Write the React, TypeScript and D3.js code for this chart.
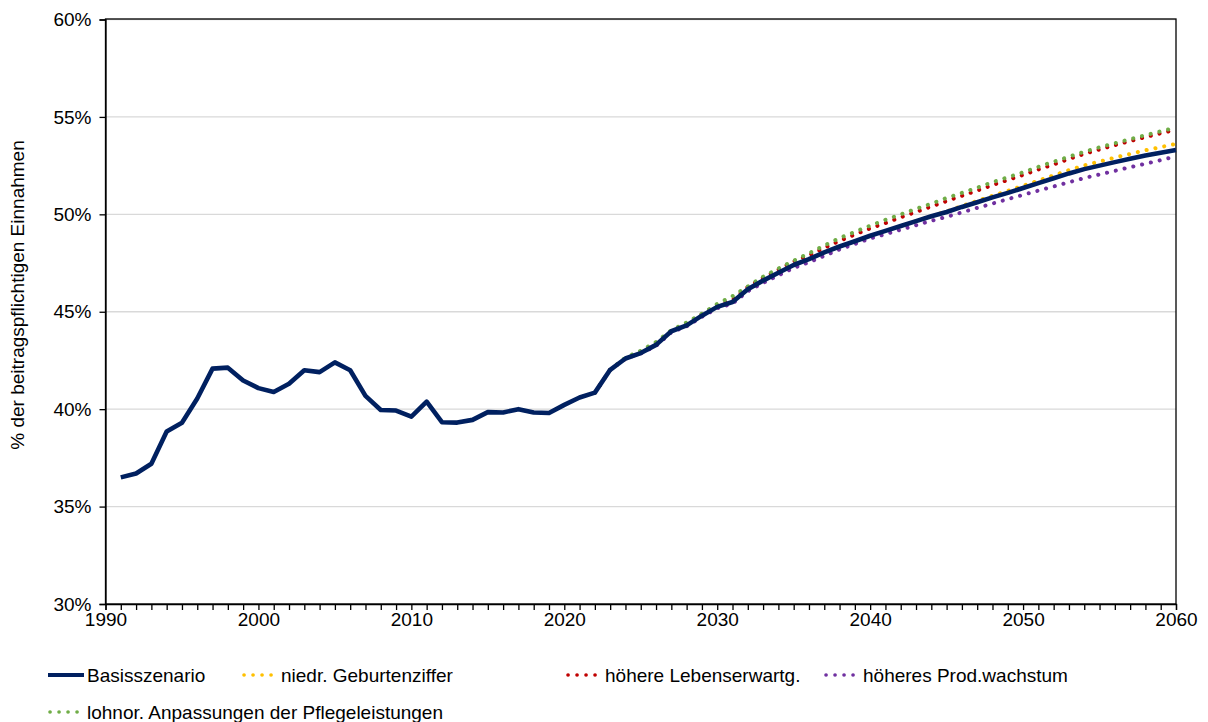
import React, { useRef, useEffect } from "react";
import * as d3 from "d3";

// Basisszenario 1991-2060 (% der beitragspflichtigen Einnahmen)
const basisYears = d3.range(1991, 2061);
const basisValues = [
  36.5, 36.7, 37.2, 38.85, 39.3, 40.55, 42.08, 42.13, 41.47, 41.08,
  40.88, 41.3, 42.0, 41.9, 42.4, 42.0, 40.68, 39.96, 39.93, 39.62,
  40.39, 39.33, 39.31, 39.45, 39.85, 39.83, 40.0, 39.83, 39.8, 40.22,
  40.6, 40.85, 42.02, 42.6, 42.88, 43.3, 44.0, 44.3, 44.8, 45.25,
  45.5, 46.15, 46.6, 47.0, 47.4, 47.7, 48.05, 48.35, 48.62, 48.9,
  49.15, 49.4, 49.65, 49.9, 50.12, 50.38, 50.62, 50.87, 51.1, 51.35,
  51.6, 51.85, 52.1, 52.32, 52.5, 52.68, 52.85, 53.02, 53.16, 53.3,
];

// Szenarien 2022-2060
const scenarioYears = d3.range(2022, 2061);
const geburtenValues = [
  40.85, 42.02, 42.6, 42.88, 43.3, 44.0, 44.3, 44.8, 45.25, 45.5,
  46.15, 46.6, 47.0, 47.4, 47.7, 48.05, 48.35, 48.62, 48.9, 49.15,
  49.4, 49.65, 49.9, 50.15, 50.43, 50.69, 50.95, 51.2, 51.47, 51.73,
  52.0, 52.27, 52.51, 52.71, 52.91, 53.1, 53.29, 53.45, 53.62,
];
const lebensValues = [
  40.85, 42.02, 42.6, 42.9, 43.35, 44.02, 44.35, 44.87, 45.33, 45.6,
  46.27, 46.74, 47.16, 47.58, 47.9, 48.28, 48.64, 48.96, 49.28, 49.55,
  49.85, 50.12, 50.4, 50.68, 50.95, 51.22, 51.5, 51.76, 52.02, 52.3,
  52.56, 52.84, 53.1, 53.33, 53.55, 53.76, 53.96, 54.16, 54.35,
];
const prodValues = [
  40.85, 42.02, 42.6, 42.86, 43.25, 43.95, 44.25, 44.74, 45.18, 45.42,
  46.05, 46.48, 46.87, 47.25, 47.54, 47.87, 48.2, 48.48, 48.76, 48.98,
  49.21, 49.44, 49.67, 49.87, 50.1, 50.33, 50.55, 50.78, 51.0, 51.22,
  51.43, 51.65, 51.86, 52.05, 52.23, 52.42, 52.6, 52.78, 52.98,
];
const pflegeValues = [
  40.85, 42.02, 42.65, 43.0, 43.45, 44.05, 44.45, 44.9, 45.4, 45.8,
  46.3, 46.8, 47.22, 47.62, 48.0, 48.4, 48.78, 49.1, 49.42, 49.72,
  50.0, 50.28, 50.55, 50.84, 51.1, 51.37, 51.65, 51.9, 52.16, 52.44,
  52.7, 52.96, 53.21, 53.44, 53.65, 53.86, 54.06, 54.26, 54.45,
];

const yTicks = [30, 35, 40, 45, 50, 55, 60];
const xTicks = [1990, 2000, 2010, 2020, 2030, 2040, 2050, 2060];

const FONT = "Liberation Sans, Arial, sans-serif";
const FS = 19;

const App = () => {
  const chartRef = useRef(null);

  useEffect(() => {
    drawChart();
  }, []);

  const drawChart = () => {
    if (!chartRef.current) return;
    const width = 1208;
    const height = 722;
    const left = 105.5, right = 1176, top = 19.5, bottom = 604;

    d3.select(chartRef.current).select("svg").remove();

    const svg = d3
      .select(chartRef.current)
      .append("svg")
      .attr("width", width)
      .attr("height", height)
      .style("position", "absolute")
      .style("left", 0)
      .style("top", 0)
      .style("font-family", FONT);

    const x = d3.scaleLinear().domain([1990, 2060]).range([left, right]);
    const y = d3.scaleLinear().domain([30, 60]).range([bottom, top]);

    // gridlines
    svg
      .append("g")
      .selectAll("line")
      .data(yTicks.slice(1))
      .enter()
      .append("line")
      .attr("x1", left)
      .attr("x2", right)
      .attr("y1", (d) => y(d))
      .attr("y2", (d) => y(d))
      .attr("stroke", "#d9d9d9")
      .attr("stroke-width", 1.3);

    // plot frame
    svg
      .append("rect")
      .attr("x", left)
      .attr("y", top - 0.5)
      .attr("width", right - left)
      .attr("height", bottom - top + 0.5)
      .attr("fill", "none")
      .attr("stroke", "#000")
      .attr("stroke-width", 1.3);

    // y axis
    const yAxis = svg
      .append("g")
      .attr("transform", `translate(${left},0)`)
      .call(
        d3
          .axisLeft(y)
          .tickValues(yTicks)
          .tickSize(6)
          .tickPadding(8)
          .tickFormat((d) => `${d}%`)
      );
    yAxis.select(".domain").attr("stroke", "#000").attr("stroke-width", 1.3);
    yAxis.selectAll(".tick line").attr("stroke", "#000").attr("stroke-width", 1.3);
    yAxis
      .selectAll(".tick text")
      .attr("font-family", FONT)
      .attr("font-size", FS)
      .attr("fill", "#000");

    // x axis minor ticks every year
    const xMinor = svg
      .append("g")
      .attr("transform", `translate(0,${bottom})`)
      .call(d3.axisBottom(x).tickValues(d3.range(1990, 2061)).tickSize(6).tickFormat(() => ""));
    xMinor.select(".domain").attr("stroke", "#000").attr("stroke-width", 1.3);
    xMinor.selectAll(".tick line").attr("stroke", "#000").attr("stroke-width", 1.3);

    const xAxis = svg
      .append("g")
      .attr("transform", `translate(0,${bottom})`)
      .call(d3.axisBottom(x).tickValues(xTicks).tickSize(0).tickPadding(9).tickFormat(d3.format("d")));
    xAxis.select(".domain").remove();
    xAxis
      .selectAll(".tick text")
      .attr("font-family", FONT)
      .attr("font-size", FS)
      .attr("fill", "#000");

    // y axis title
    svg
      .append("text")
      .attr("transform", `translate(24,295) rotate(-90)`)
      .attr("text-anchor", "middle")
      .attr("font-size", FS)
      .attr("fill", "#000")
      .text("% der beitragspflichtigen Einnahmen");

    const line = d3
      .line()
      .x((d) => x(d[0]))
      .y((d) => y(d[1]));

    const scenarios = [
      { name: "niedr. Geburtenziffer", values: geburtenValues, color: "#ffc000" },
      { name: "höhere Lebenserwartg.", values: lebensValues, color: "#c00000" },
      { name: "höheres Prod.wachstum", values: prodValues, color: "#7030a0" },
      { name: "lohnor. Anpassungen der Pflegeleistungen", values: pflegeValues, color: "#70ad47" },
    ];

    scenarios.forEach((s) => {
      svg
        .append("path")
        .datum(scenarioYears.map((yr, i) => [yr, s.values[i]]))
        .attr("d", line)
        .attr("fill", "none")
        .attr("stroke", s.color)
        .attr("stroke-width", 4)
        .attr("stroke-linecap", "round")
        .attr("stroke-dasharray", "0.1 8.9");
    });

    svg
      .append("path")
      .datum(basisYears.map((yr, i) => [yr, basisValues[i]]))
      .attr("d", line)
      .attr("fill", "none")
      .attr("stroke", "#002060")
      .attr("stroke-width", 4.6)
      .attr("stroke-linejoin", "round");

    // legend
    const legendItems = [
      { name: "Basisszenario", color: "#002060", x: 48, y: 675, solid: true },
      { name: scenarios[0].name, color: scenarios[0].color, x: 242, y: 675 },
      { name: scenarios[1].name, color: scenarios[1].color, x: 566, y: 675 },
      { name: scenarios[2].name, color: scenarios[2].color, x: 824, y: 675 },
      { name: scenarios[3].name, color: scenarios[3].color, x: 48, y: 712 },
    ];

    const lg = svg.append("g");
    legendItems.forEach((it) => {
      lg.append("line")
        .attr("x1", it.x + (it.solid ? 0 : 2))
        .attr("x2", it.x + 36)
        .attr("y1", it.y)
        .attr("y2", it.y)
        .attr("stroke", it.color)
        .attr("stroke-width", it.solid ? 4 : 3.6)
        .attr("stroke-linecap", it.solid ? "butt" : "round")
        .attr("stroke-dasharray", it.solid ? null : "0.1 8.9");
      lg.append("text")
        .attr("x", it.x + 39)
        .attr("y", it.y + 6.5)
        .attr("font-size", FS)
        .attr("fill", "#000")
        .text(it.name);
    });
  };

  return <div ref={chartRef}></div>;
};

export default App;
